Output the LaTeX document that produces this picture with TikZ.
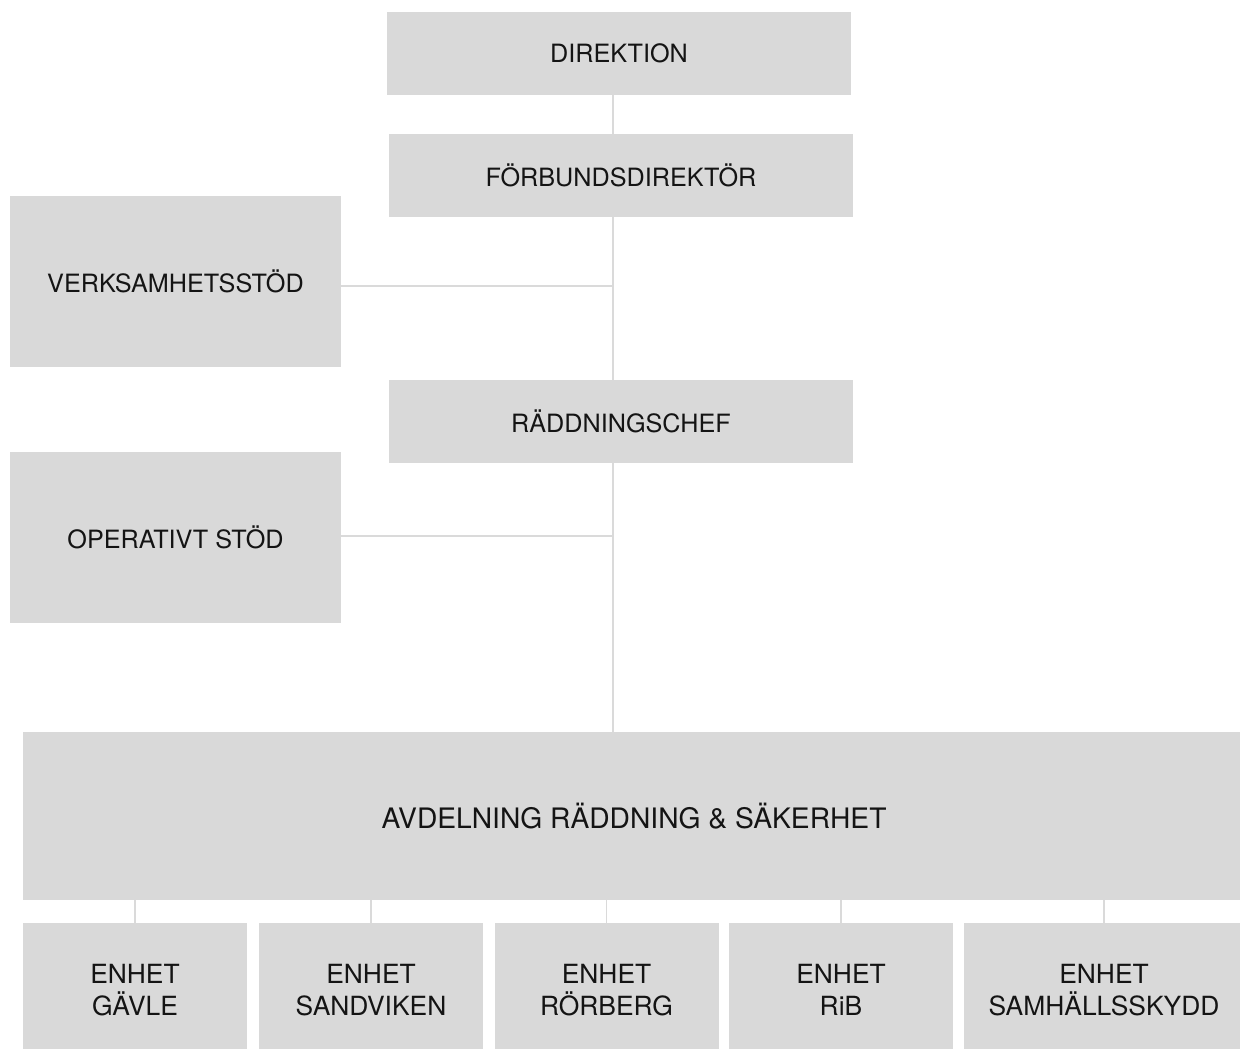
\documentclass[tikz,border=0pt]{standalone}
\usepackage{fontspec}
\setmainfont{TeX Gyre Heros}
\usepackage{tikz}
\definecolor{boxgray}{HTML}{D9D9D9}
\definecolor{linegray}{HTML}{DADADA}
\definecolor{ink}{HTML}{141414}
\tikzstyle{unit}=[shape=rectangle,fill=boxgray,text=ink,inner sep=0pt,align=center,font=\fontsize{12.6}{15}\selectfont]
\tikzstyle{topunit}=[unit,minimum width=232pt,minimum height=41.5pt]
\tikzstyle{sideunit}=[unit,minimum width=165.5pt,minimum height=85.5pt]
\tikzstyle{enhet}=[unit,minimum width=112pt,minimum height=67pt,font=\fontsize{13.2}{16}\selectfont]
\tikzstyle{link}=[draw=linegray,line width=0.75pt]

\begin{document}
\begin{tikzpicture}[x=0.5pt,y=-0.5pt]

		\useasboundingbox (0,0) rectangle (1240,1048);

		% top of the tree
		\node[topunit] (dir) at (619,53.5) {DIREKTION};
		\node[topunit] (forb) at (621,175.5) {FÖRBUNDSDIREKTÖR};
		\node[topunit] (radd) at (621,421.5) {RÄDDNINGSCHEF};

		% staff units
		\node[sideunit] (verk) at (175.5,281.5) {VERKSAMHETSSTÖD};
		\node[sideunit] (oper) at (175.5,537.5) {OPERATIVT STÖD};

		% department
		\node[unit,minimum width=611pt,minimum height=84pt,font=\fontsize{14.1}{17}\selectfont] (avd) at (634,816) {AVDELNING RÄDDNING \& SÄKERHET};

		% units
		\node[enhet] (e1) at (135,990) {ENHET\\GÄVLE};
		\node[enhet] (e2) at (371,990) {ENHET\\SANDVIKEN};
		\node[enhet] (e3) at (606.5,990) {ENHET\\RÖRBERG};
		\node[enhet] (e4) at (841,990) {ENHET\\RiB};
		\node[enhet,minimum width=140pt] (e5) at (1104,990) {ENHET\\SAMHÄLLSSKYDD};

		% lines
		\coordinate (j1) at (613,286);
		\coordinate (j2) at (613,536);
		\draw[link] (dir.south -| j1) -- (forb.north -| j1);
		\draw[link] (forb.south -| j1) -- (radd.north -| j1);
		\draw[link] (verk.east |- j1) -- (j1);
		\draw[link] (radd.south -| j2) -- (avd.north -| j2);
		\draw[link] (oper.east |- j2) -- (j2);
		\foreach \e in {e1,e2,e3,e4,e5}
			\draw[link] (avd.south -| \e.north) -- (\e.north);

\end{tikzpicture}
\end{document}
